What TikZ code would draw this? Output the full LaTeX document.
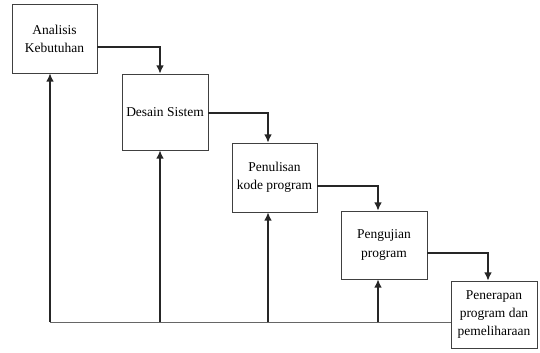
\documentclass[tikz,border=0pt]{standalone}
\usepackage{fontspec}
\setmainfont{Liberation Serif}
\usetikzlibrary{arrows.meta}

\begin{document}
\begin{tikzpicture}[x=0.03cm, y=-0.03cm,
    tahap/.style={draw=black!75, line width=0.7pt, fill=white, align=center, inner sep=1pt, font=\fontsize{11.5}{15.5}\selectfont},
    alur/.style={draw=black!85, line width=1.1pt, -{Latex[length=7pt, width=6.5pt]}},
    balik/.style={draw=black!60, line width=0.7pt}]
          \useasboundingbox (0, 0) rectangle (540, 352);
          \node[tahap, minimum width=85*0.03cm, minimum height=69*0.03cm] (b1) at (54.5, 38.5) {Analisis\\Kebutuhan};
          \node[tahap, minimum width=86*0.03cm, minimum height=76*0.03cm] (b2) at (165, 112) {Desain Sistem};
          \node[tahap, minimum width=85*0.03cm, minimum height=69*0.03cm] (b3) at (274.5, 177.5) {Penulisan\\kode program};
          \node[tahap, minimum width=86*0.03cm, minimum height=68*0.03cm] (b4) at (384, 245) {Pengujian\\program};
          \node[tahap, minimum width=86*0.03cm, minimum height=67*0.03cm] (b5) at (494, 314.5) {Penerapan\\program dan\\pemeliharaan};
          % alur maju
          \draw[alur] (b1.east |- 0, 47) -| (b2.north -| 160, 0);
          \draw[alur] (b2.east |- 0, 113) -| (b3.north -| 268, 0);
          \draw[alur] (b3.east |- 0, 186) -| (b4.north -| 378, 0);
          \draw[alur] (b4.east |- 0, 253) -| (b5.north -| 488, 0);
          % alur balik
          \coordinate (dasar) at (50, 322);
          \draw[balik] (b5.west |- dasar) -- (dasar);
          \draw[alur] (dasar) -- (b1.south -| dasar);
          \draw[alur] (dasar -| 160, 0) -- (b2.south -| 160, 0);
          \draw[alur] (dasar -| 268, 0) -- (b3.south -| 268, 0);
          \draw[alur] (dasar -| 378, 0) -- (b4.south -| 378, 0);
        \end{tikzpicture}
\end{document}
